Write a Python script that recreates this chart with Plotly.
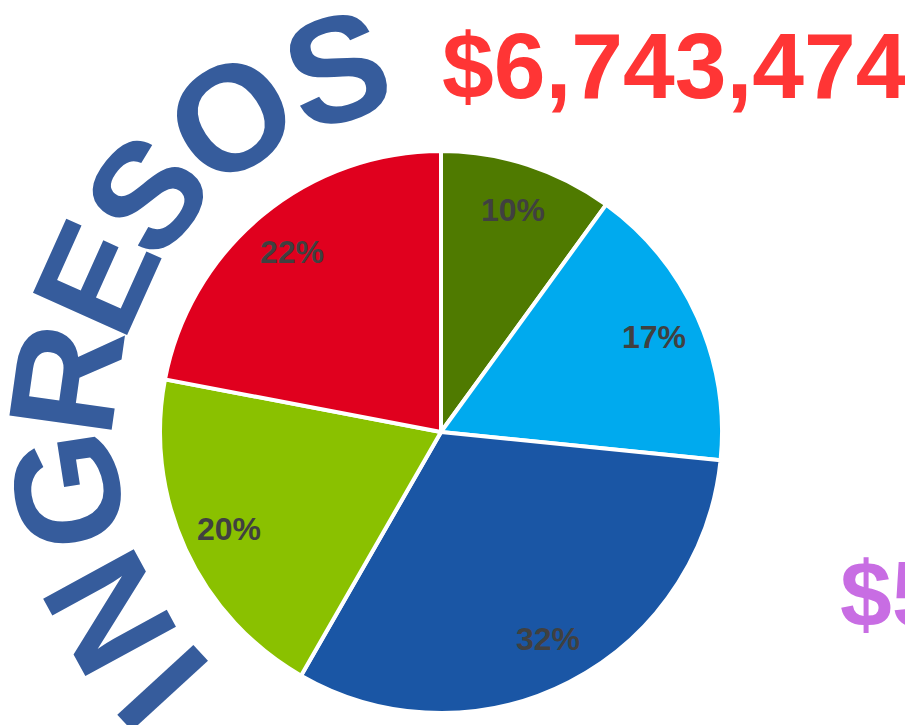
import math

import plotly.graph_objects as go

# slice shares, clockwise from 12 o'clock
values = [10.0, 16.6, 31.7, 19.7, 22.0]
labels_text = ["10%", "17%", "32%", "20%", "22%"]
slice_colors = ["#4F7A00", "#00AAEE", "#1A56A5", "#8AC100", "#E0001E"]

title_word = "INGRESOS"
total_amount = "$6,743,474"
second_amount = "$5"

W, H = 913, 725
PAD = 8  # the page body margin shifts the figure by this much


def to_paper(px, py):
    # screen pixel -> paper coords of the figure (which starts at PAD, PAD)
    return (px - PAD) / W, 1 - (py - PAD) / H


# pie geometry in screen pixels
cx, cy, R = 441, 432, 281
x0, y1 = to_paper(cx - R, cy - R)
x1, y0 = to_paper(cx + R, cy + R)

fig = go.Figure()

fig.add_trace(go.Pie(
    values=values,
    textinfo="none",
    marker=dict(colors=slice_colors, line=dict(color="white", width=4)),
    sort=False,
    direction="clockwise",
    rotation=0,
    hoverinfo="skip",
    showlegend=False,
    domain=dict(x=[x0, x1], y=[y0, y1]),
))

annotations = []

# percentage labels placed at ~83% of the radius, mid-slice
total = sum(values)
cum = 0.0
for v, t in zip(values, labels_text):
    mid = math.radians((cum + v / 2) / total * 360)
    cum += v
    lx, ly = to_paper(cx + 0.83 * R * math.sin(mid), cy - 0.83 * R * math.cos(mid))
    annotations.append(dict(
        text=t, x=lx, y=ly, xref="paper", yref="paper",
        xanchor="center", yanchor="middle", showarrow=False,
        font=dict(family="Liberation Sans", size=32, color="#404040", weight="bold"),
    ))

# curved word around the left side of the pie, letters pointing outward;
# angle of each letter in degrees counter-clockwise from 12 o'clock
arc_r = 378
letter_angles = [132.5, 118.6, 98.9, 82.0, 65.8, 51.0, 33.6, 16.0]
for ch, a in zip(title_word, letter_angles):
    lx, ly = to_paper(cx - arc_r * math.sin(math.radians(a)),
                      cy - arc_r * math.cos(math.radians(a)))
    annotations.append(dict(
        text=ch, x=lx, y=ly, xref="paper", yref="paper",
        xanchor="center", yanchor="middle", showarrow=False, textangle=-a,
        font=dict(family="Liberation Sans", size=150, color="#365C9C", weight="bold"),
    ))

ax, ay = to_paper(440, 66)
annotations.append(dict(
    text=total_amount, x=ax, y=ay, xref="paper", yref="paper",
    xanchor="left", yanchor="middle", showarrow=False,
    font=dict(family="Liberation Sans", size=93, color="#FF3535", weight="bold"),
))
ax, ay = to_paper(838, 594)
annotations.append(dict(
    text=second_amount, x=ax, y=ay, xref="paper", yref="paper",
    xanchor="left", yanchor="middle", showarrow=False,
    font=dict(family="Liberation Sans", size=93, color="#C86DE3", weight="bold"),
))

fig.update_layout(
    width=W, height=H,
    margin=dict(l=0, r=0, t=0, b=0),
    paper_bgcolor="white", plot_bgcolor="white",
    annotations=annotations,
)

fig.write_html("out.html")
